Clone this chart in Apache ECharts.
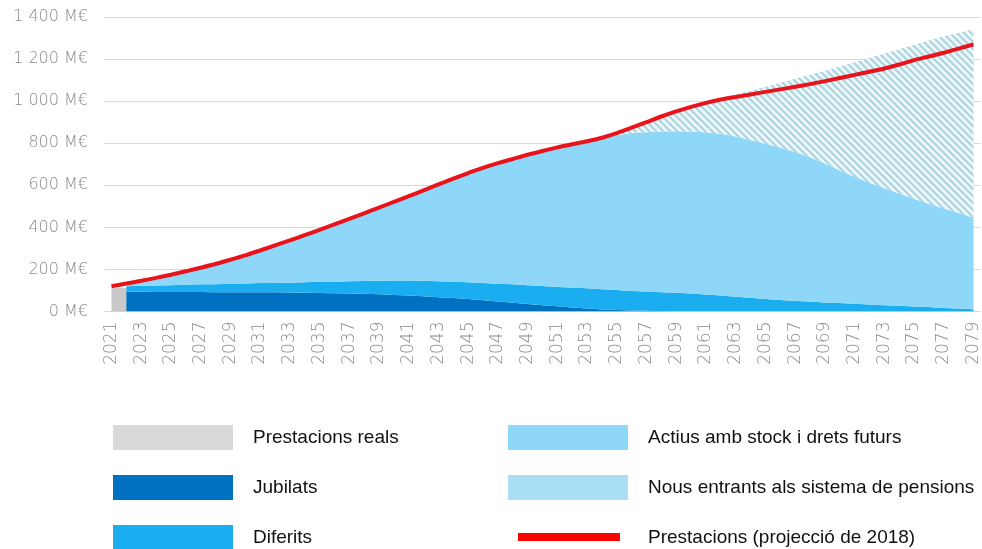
<!DOCTYPE html>
<html>
<head>
<meta charset="utf-8">
<script src="https://cdn.jsdelivr.net/npm/echarts@6/dist/echarts.min.js"></script>
<style>
  html, body { margin: 0; padding: 0; background: #fff; }
  #chart { width: 982px; height: 549px; }
</style>
</head>
<body>
<div id="chart"></div>
<script>
// years on the x axis
const years = []
for (let y = 2021; y <= 2079; y++) years.push(String(y))

// M€
const reals = [113, 113]
const jubilats = [null,
  94, 94, 93, 93, 93, 93, 92, 92, 92, 91, 91, 90, 89, 88, 87, 86, 84, 82, 79, 76,
  72, 68, 64, 59, 54, 48, 42, 36, 30, 25, 19, 14, 10, 7, 5, 3, 1,
  0, 0, 0, 0, 0, 0, 0, 0, 0, 0, 0, 0, 0, 0, 0, 0, 0, 0, 0, 0, 0]
const diferits = [null,
  26, 28, 31, 32, 34, 36, 38, 40, 41, 44, 45, 47, 50, 53, 55, 58, 61, 64, 68, 71,
  74, 76, 78, 80, 82, 84, 87, 89, 91, 92, 95, 96, 96, 95, 93, 92, 91,
  89, 86, 81, 76, 70, 65, 60, 55, 50, 47, 43, 40, 37, 33, 30, 27, 24, 21, 17, 14, 11]
const actius = [null,
  13, 24, 36, 50, 64, 79, 96, 114, 134, 155, 178, 201, 224, 247, 272, 296, 322, 348, 374, 401,
  430, 460, 490, 519, 547, 573, 596, 620, 642, 663, 681, 699, 716, 736, 750, 757, 764,
  768, 770, 771, 769, 762, 750, 738, 725, 708, 686, 661, 630, 603, 579, 556, 534, 512, 491, 473, 454, 435]
const nousEntrants = [null,
  0, 0, 0, 0, 0, 0, 0, 0, 0, 0, 0, 0, 0, 0, 0, 0, 0, 0, 0, 0,
  0, 0, 0, 0, 0, 0, 0, 0, 0, 0, 0, 0, 4, 10, 26, 48, 71,
  95, 119, 146, 171, 201, 235, 270, 307, 348, 392, 441, 495, 545, 593, 640, 686, 732, 776, 818, 857, 894]
const projeccio = [120,
  133, 146, 160, 175, 191, 208, 226, 246, 267, 290, 314, 338, 363, 388, 414, 440, 467, 494, 521, 548,
  576, 604, 632, 658, 683, 705, 725, 745, 763, 780, 795, 809, 826, 848, 874, 900, 927,
  951, 973, 992, 1008, 1020, 1032, 1044, 1056, 1068, 1081, 1095, 1110, 1125, 1140, 1155, 1174, 1195, 1212, 1230, 1250, 1270]

// striped fill for the new entrants
function hatch() {
  const c = document.createElement('canvas')
  c.width = 7; c.height = 7
  const ctx = c.getContext('2d')
  ctx.fillStyle = '#eefafd'
  ctx.fillRect(0, 0, 7, 7)
  ctx.strokeStyle = '#b2d6e0'
  ctx.lineWidth = 2.4
  ctx.beginPath()
  ctx.moveTo(-3, -3); ctx.lineTo(10, 10)
  ctx.moveTo(-3, 4); ctx.lineTo(3, 10)
  ctx.moveTo(4, -3); ctx.lineTo(10, 3)
  ctx.stroke()
  return c
}

const chart = echarts.init(document.getElementById('chart'), null, { renderer: 'canvas' })

const areaSeries = (name, data, color, extra) => Object.assign({
  name,
  type: 'line',
  stack: 'total',
  data,
  symbol: 'none',
  lineStyle: { width: 0 },
  itemStyle: { color },
  areaStyle: { color, opacity: 1 },
  emphasis: { disabled: true },
}, extra || {})

const legendText = {
  fontFamily: 'Liberation Sans, Arial, sans-serif',
  fontSize: 19,
  color: '#111',
  padding: [0, 0, 0, 15],
}
const axisFont = {
  color: '#8a8a8a',
  fontFamily: 'DejaVu Sans, sans-serif',
  fontWeight: 200,
}

chart.setOption({
  animation: false,
  grid: { left: 104, right: 0, top: 17, bottom: 237.5 },
  legend: [
    {
      orient: 'vertical',
      left: 113,
      top: 425,
      height: 160,
      padding: 0,
      itemWidth: 120,
      itemHeight: 25,
      itemGap: 25,
      icon: 'rect',
      selectedMode: false,
      textStyle: legendText,
      data: ['Prestacions reals', 'Jubilats', 'Diferits'],
    },
    {
      orient: 'vertical',
      left: 508,
      top: 425,
      height: 160,
      padding: 0,
      itemWidth: 120,
      itemHeight: 25,
      itemGap: 25,
      icon: 'rect',
      selectedMode: false,
      textStyle: legendText,
      data: [
        'Actius amb stock i drets futurs',
        { name: 'Nous entrants als sistema de pensions', itemStyle: { color: '#a9dff5' } },
        {
          name: 'Prestacions (projecció de 2018)',
          icon: 'path://M0,0M120,25M10,8H112V16H10Z',
          itemStyle: { color: '#ff0000' },
        },
      ],
    },
  ],
  xAxis: {
    type: 'category',
    data: years,
    boundaryGap: true,
    axisLine: { show: false },
    axisTick: { show: false },
    axisLabel: Object.assign({ interval: 1, rotate: 90, margin: 10, fontSize: 17 }, axisFont),
  },
  yAxis: {
    type: 'value',
    min: 0,
    max: 1400,
    interval: 200,
    axisLine: { show: false },
    axisTick: { show: false },
    splitLine: { lineStyle: { color: '#d9d9d9', width: 1 } },
    axisLabel: Object.assign({
      margin: 16,
      fontSize: 16,
      formatter: v => (v >= 1000 ? Math.floor(v / 1000) + ' ' + String(v % 1000).padStart(3, '0') : v) + ' M€',
    }, axisFont),
  },
  series: [
    {
      name: 'Prestacions reals',
      type: 'line',
      data: reals,
      symbol: 'none',
      lineStyle: { width: 0 },
      itemStyle: { color: '#d9d9d9' },
      areaStyle: { color: '#c8c8c8', opacity: 1 },
      emphasis: { disabled: true },
    },
    areaSeries('Jubilats', jubilats, '#0070c0'),
    areaSeries('Diferits', diferits, '#1aaef0'),
    areaSeries('Actius amb stock i drets futurs', actius, '#8fd7f8'),
    areaSeries('Nous entrants als sistema de pensions', nousEntrants, '#a9dff5', {
      areaStyle: { color: { image: hatch(), repeat: 'repeat' }, opacity: 1 },
    }),
    {
      name: 'Prestacions (projecció de 2018)',
      type: 'line',
      data: projeccio,
      symbol: 'none',
      smooth: 0.3,
      z: 5,
      lineStyle: { color: '#e8131b', width: 4 },
      itemStyle: { color: '#ff0000' },
      emphasis: { disabled: true },
    },
  ],
})
</script>
</body>
</html>
